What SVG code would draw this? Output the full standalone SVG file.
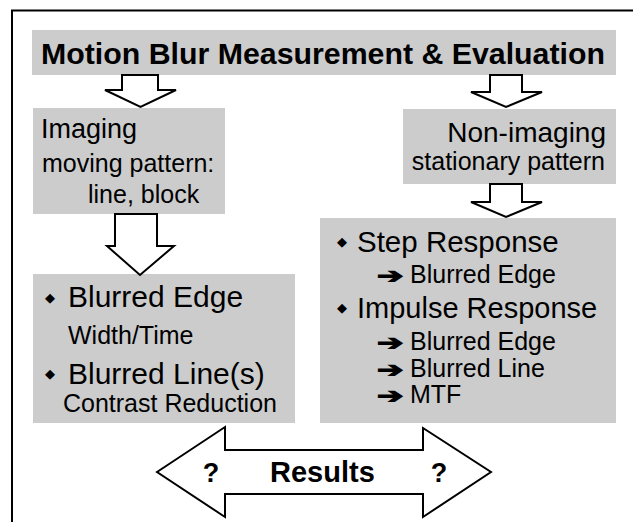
<svg xmlns="http://www.w3.org/2000/svg" width="633" height="522" viewBox="0 0 633 522">
<style>
.box{fill:#cccccc;}
.arr{fill:#ffffff;stroke:#000000;stroke-width:2;stroke-linejoin:miter;}
.t{font-family:"Liberation Sans",Arial,sans-serif;fill:#000000;}
.b{font-weight:bold;}
.dia{font-family:"DejaVu Sans",sans-serif;font-size:13px;fill:#000000;}
.ra{font-family:"DejaVu Sans",sans-serif;font-size:21px;fill:#000000;stroke:#000000;stroke-width:1.2;}
</style>
<rect width="633" height="522" fill="#ffffff"/>
<g id="frame">
<line x1="11" y1="10.5" x2="633" y2="10.5" stroke="#000" stroke-width="2"/>
<line x1="12" y1="10" x2="12" y2="522" stroke="#000" stroke-width="2"/>
</g>
<g id="title">
<rect class="box" x="32" y="30" width="584" height="45"/>
<text class="t b" x="323" y="64" font-size="30.3" text-anchor="middle">Motion Blur Measurement &amp; Evaluation</text>
</g>
<g id="imaging">
<rect class="box" x="33" y="108" width="192" height="106"/>
<text class="t" x="41" y="138" font-size="27">Imaging</text>
<text class="t" x="42" y="172" font-size="25">moving pattern:</text>
<text class="t" x="88" y="203" font-size="25">line, block</text>
</g>
<g id="nonimaging">
<rect class="box" x="403" y="109" width="213" height="75"/>
<text class="t" x="606" y="142" font-size="28" text-anchor="end">Non-imaging</text>
<text class="t" x="605" y="170" font-size="25" text-anchor="end">stationary pattern</text>
</g>
<g id="imaging-results">
<rect class="box" x="33" y="274" width="262" height="149"/>
<text class="dia" x="50" y="302" text-anchor="middle">◆</text>
<text class="t" x="68" y="307" font-size="30">Blurred Edge</text>
<text class="t" x="68" y="344" font-size="25">Width/Time</text>
<text class="dia" x="50" y="378" text-anchor="middle">◆</text>
<text class="t" x="68" y="384" font-size="30">Blurred Line(s)</text>
<text class="t" x="277" y="412" font-size="25" text-anchor="end">Contrast Reduction</text>
</g>
<g id="nonimaging-results">
<rect class="box" x="320" y="218" width="296" height="205"/>
<text class="dia" x="342" y="246" text-anchor="middle">◆</text>
<text class="t" x="357" y="252" font-size="29.5">Step Response</text>
<text class="ra" transform="translate(377,283) scale(1.5,1)">➔</text>
<text class="t" x="410" y="283" font-size="25">Blurred Edge</text>
<text class="dia" x="342" y="312" text-anchor="middle">◆</text>
<text class="t" x="357" y="318" font-size="29">Impulse Response</text>
<text class="ra" transform="translate(377,350) scale(1.5,1)">➔</text>
<text class="t" x="410" y="350" font-size="25">Blurred Edge</text>
<text class="ra" transform="translate(377,377) scale(1.5,1)">➔</text>
<text class="t" x="410" y="377" font-size="25">Blurred Line</text>
<text class="ra" transform="translate(377,403) scale(1.5,1)">➔</text>
<text class="t" x="410" y="403" font-size="25">MTF</text>
</g>
<g id="connectors">
<polygon class="arr" points="122,75 158,75 158,90 176,90 140.5,107 105,90 122,90"/>
<polygon class="arr" points="490,75 522,75 522,92 542,92 506,107 471,92 490,92"/>
<polygon class="arr" points="490,184 522,184 522,202 542,202 506,217 471,202 490,202"/>
<polygon class="arr" points="115,214 157,214 157,246 174,246 140,275 107,246 115,246"/>
</g>
<g id="results">
<polygon class="arr" points="157,472 225,427 225,450 423,450 423,428 491,472 423,517 423,494 225,494 225,517"/>
<text class="t b" x="211" y="482" font-size="27" text-anchor="middle">?</text>
<text class="t b" x="270" y="482" font-size="29">Results</text>
<text class="t b" x="439" y="482" font-size="27" text-anchor="middle">?</text>
</g>
</svg>
